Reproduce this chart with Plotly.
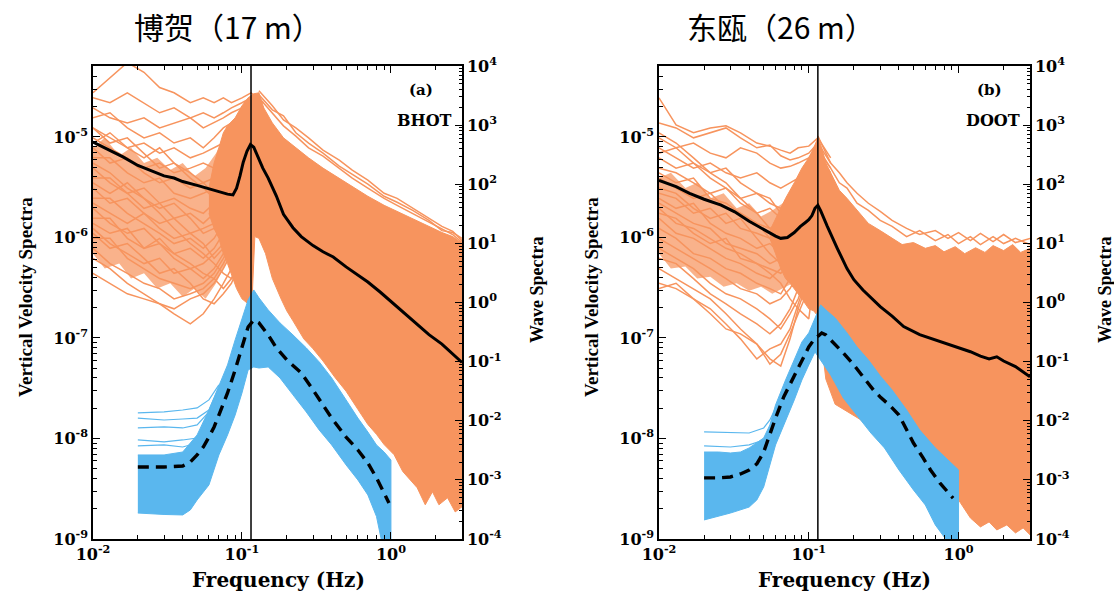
import plotly.graph_objects as go

ORANGE = "#F7945E"
ORANGE_CORE = "rgba(247,148,94,0.72)"
BLUE = "#5AB7EE"
PEAK_FREQ = 0.115

TITLES = ["博贺（17 m）", "东瓯（26 m）"]
PANEL_TAGS = ["(a)", "(b)"]
STATIONS = ["BHOT", "DOOT"]

X_TICKS = [0.01, 0.1, 1]
X_TICK_TEXT = ["10<sup>-2</sup>", "10<sup>-1</sup>", "10<sup>0</sup>"]
VEL_TICKS = [1e-9, 1e-8, 1e-7, 1e-6, 1e-5]
VEL_TICK_TEXT = ["10<sup>-9</sup>", "10<sup>-8</sup>", "10<sup>-7</sup>", "10<sup>-6</sup>", "10<sup>-5</sup>"]
WAVE_TICKS = [1e-4, 1e-3, 1e-2, 1e-1, 1, 10, 100, 1000, 10000]
WAVE_TICK_TEXT = ["10<sup>-4</sup>", "10<sup>-3</sup>", "10<sup>-2</sup>", "10<sup>-1</sup>", "10<sup>0</sup>",
                  "10<sup>1</sup>", "10<sup>2</sup>", "10<sup>3</sup>", "10<sup>4</sup>"]

# ---------------- panel (a) : BHOT ----------------
F_LOW = [0.01, 0.013, 0.017, 0.022, 0.028, 0.035, 0.045, 0.055, 0.065, 0.075, 0.085, 0.1, 0.115, 0.14]

A_ORANGE_LINES = [
    [2.75e-5, 3.9e-5, 5.5e-5, 4.4e-5, 3.1e-5, 2.75e-5, 2.19e-5, 2.45e-5, 2.19e-5, 2.45e-5, 2.19e-5, 2.45e-5, 2.75e-5, 2.19e-5],
    [2.45e-5, 2.19e-5, 2.75e-5, 2.19e-5, 1.74e-5, 1.95e-5, 1.55e-5, 1.74e-5, 1.55e-5, 1.74e-5, 1.95e-5, 2.19e-5, 2.45e-5, 1.95e-5],
    [1.95e-5, 1.55e-5, 1.38e-5, 1.55e-5, 1.23e-5, 1.38e-5, 1.55e-5, 1.23e-5, 1.38e-5, 1.55e-5, 1.74e-5, 1.95e-5, 2.45e-5, 1.74e-5],
    [1.55e-5, 1.74e-5, 1.23e-5, 9.8e-6, 1.1e-5, 8.7e-6, 9.8e-6, 7.8e-6, 9.8e-6, 1.23e-5, 1.38e-5, 1.74e-5, 2.19e-5, 1.55e-5],
    [1.23e-5, 9.8e-6, 7.8e-6, 8.7e-6, 6.9e-6, 7.8e-6, 6.2e-6, 6.9e-6, 7.8e-6, 8.7e-6, 1.1e-5, 1.55e-5, 1.95e-5, 1.38e-5],
    [9.8e-6, 7.8e-6, 6.2e-6, 4.9e-6, 5.5e-6, 4.4e-6, 4.9e-6, 5.5e-6, 4.9e-6, 6.2e-6, 7.8e-6, 1.23e-5, 1.74e-5, 1.23e-5],
    [7.8e-6, 5.5e-6, 6.2e-6, 4.4e-6, 3.5e-6, 3.9e-6, 3.1e-6, 3.5e-6, 3.9e-6, 4.9e-6, 6.2e-6, 9.8e-6, 1.55e-5, 1.1e-5],
    [6.2e-6, 6.2e-6, 4.4e-6, 3.5e-6, 3.9e-6, 2.75e-6, 2.45e-6, 2.75e-6, 3.1e-6, 3.9e-6, 4.9e-6, 7.8e-6, 1.38e-5, 9.8e-6],
    [4.9e-6, 3.5e-6, 2.75e-6, 3.1e-6, 2.19e-6, 2.45e-6, 1.95e-6, 1.74e-6, 2.19e-6, 2.75e-6, 3.9e-6, 6.2e-6, 1.23e-5, 8.7e-6],
    [3.9e-6, 3.9e-6, 2.75e-6, 1.95e-6, 2.19e-6, 1.55e-6, 1.74e-6, 1.38e-6, 1.74e-6, 2.19e-6, 3.1e-6, 5.5e-6, 1.1e-5, 7.8e-6],
    [3.1e-6, 2.19e-6, 2.45e-6, 1.74e-6, 1.38e-6, 1.55e-6, 1.1e-6, 1.23e-6, 1.38e-6, 1.74e-6, 2.45e-6, 4.4e-6, 9.8e-6, 6.9e-6],
    [2.45e-6, 2.45e-6, 1.74e-6, 1.38e-6, 1.1e-6, 8.7e-7, 9.8e-7, 7.8e-7, 9.8e-7, 1.38e-6, 2.19e-6, 3.9e-6, 8.7e-6, 6.2e-6],
    [1.95e-6, 1.38e-6, 1.1e-6, 1.23e-6, 8.7e-7, 6.9e-7, 7.8e-7, 6.2e-7, 7.8e-7, 1.1e-6, 1.74e-6, 3.1e-6, 7.8e-6, 5.5e-6],
    [1.55e-6, 1.55e-6, 9.8e-7, 7.8e-7, 8.7e-7, 6.2e-7, 4.9e-7, 5.5e-7, 6.9e-7, 8.7e-7, 1.38e-6, 2.75e-6, 6.9e-6, 4.9e-6],
    [1.23e-6, 8.7e-7, 6.9e-7, 5.5e-7, 6.2e-7, 4.4e-7, 4.9e-7, 3.9e-7, 4.9e-7, 6.9e-7, 1.1e-6, 2.19e-6, 6.2e-6, 4.4e-6],
    [9.8e-7, 9.8e-7, 6.2e-7, 4.9e-7, 3.9e-7, 3.5e-7, 3.1e-7, 3.5e-7, 4.4e-7, 6.2e-7, 8.7e-7, 1.74e-6, 5.5e-6, 3.9e-6],
    [7.8e-7, 5.5e-7, 4.4e-7, 3.5e-7, 3.1e-7, 2.45e-7, 2.75e-7, 3.1e-7, 3.9e-7, 5.5e-7, 7.8e-7, 1.38e-6, 4.9e-6, 3.5e-6],
    [6.2e-7, 4.9e-7, 3.5e-7, 2.75e-7, 2.19e-7, 1.95e-7, 2.45e-7, 2.75e-7, 3.5e-7, 4.9e-7, 6.9e-7, 1.1e-6, 3.9e-6, 3.1e-6],
    [4.4e-7, 3.5e-7, 2.75e-7, 2.45e-7, 2.19e-7, 1.74e-7, 1.38e-7, 1.74e-7, 2.45e-7, 3.5e-7, 4.9e-7, 8.7e-7, 3.1e-6, 2.45e-6],
    [1.1e-6, 7.8e-7, 8.7e-7, 6.2e-7, 4.4e-7, 4.9e-7, 3.5e-7, 2.45e-7, 2.19e-7, 2.75e-7, 3.5e-7, 6.2e-7, 2.45e-6, 1.95e-6],
    [1.23e-5, 8.7e-6, 9.8e-6, 6.9e-6, 4.9e-6, 5.5e-6, 3.9e-6, 3.1e-6, 2.45e-6, 1.95e-6, 1.74e-6, 2.45e-6, 7.8e-6, 4.9e-6],
    [5.5e-6, 4.4e-6, 3.1e-6, 2.45e-6, 1.74e-6, 1.23e-6, 8.7e-7, 6.9e-7, 5.5e-7, 4.4e-7, 3.9e-7, 4.9e-7, 1.95e-6, 1.55e-6],
    [8.7e-6, 1.1e-5, 7.8e-6, 6.2e-6, 7.8e-6, 5.5e-6, 4.4e-6, 3.5e-6, 2.75e-6, 3.1e-6, 3.9e-6, 5.5e-6, 1.1e-5, 7.8e-6],
    [3.5e-6, 2.75e-6, 3.5e-6, 2.45e-6, 1.95e-6, 2.19e-6, 1.55e-6, 1.1e-6, 1.23e-6, 9.8e-7, 1.1e-6, 1.55e-6, 4.4e-6, 3.5e-6],
    [2.19e-6, 1.74e-6, 1.38e-6, 1.74e-6, 1.23e-6, 9.8e-7, 1.1e-6, 8.7e-7, 6.2e-7, 7.8e-7, 8.7e-7, 1.23e-6, 3.5e-6, 2.75e-6],
    [1.38e-6, 1.1e-6, 1.23e-6, 7.8e-7, 9.8e-7, 6.9e-7, 5.5e-7, 4.4e-7, 3.9e-7, 3.1e-7, 3.9e-7, 6.9e-7, 2.75e-6, 2.19e-6],
]

A_CORE_F = [0.01, 0.012, 0.015, 0.018, 0.022, 0.027, 0.033, 0.04, 0.048, 0.057, 0.067, 0.078,
            0.078, 0.067, 0.057, 0.048, 0.04, 0.033, 0.027, 0.022, 0.018, 0.015, 0.012, 0.01]
A_CORE_V = [7.8e-6, 9.8e-6, 6.5e-6, 7.8e-6, 5.5e-6, 6.2e-6, 4.7e-6, 5.5e-6, 4.07e-6, 4.9e-6, 6.9e-6, 1.1e-5,
            5.5e-7, 3.5e-7, 2.45e-7, 3.1e-7, 2.57e-7, 3.5e-7, 3.1e-7, 4.4e-7, 3.9e-7, 5.5e-7, 4.9e-7, 6.9e-7]

A_ORANGE_UP_F = [0.06, 0.065, 0.07, 0.075, 0.08, 0.09, 0.1, 0.11, 0.12, 0.13, 0.14, 0.16, 0.19, 0.23, 0.28,
                 0.35, 0.45, 0.55, 0.7, 0.9, 1.1, 1.4, 1.8, 2.2, 2.6, 3.0]
A_ORANGE_UP_V = [3.1e-6, 5.5e-6, 7.8e-6, 1.1e-5, 1.29e-5, 1.55e-5, 2.04e-5, 2.45e-5, 2.69e-5, 2.75e-5, 1.95e-5,
                 1.38e-5, 9.8e-6, 7.8e-6, 6.2e-6, 4.9e-6, 3.9e-6, 3.24e-6, 2.57e-6, 2.09e-6, 1.82e-6, 1.55e-6,
                 1.29e-6, 1.12e-6, 1.02e-6, 8.7e-7]
A_ORANGE_LO_F = [3.0, 2.7, 2.4, 2.1, 1.9, 1.7, 1.5, 1.35, 1.2, 1.05, 0.9, 0.8, 0.7, 0.6, 0.5, 0.42, 0.35, 0.3,
                 0.26, 0.22, 0.2, 0.183, 0.16, 0.144, 0.13, 0.122, 0.117, 0.11, 0.1, 0.092, 0.085, 0.08, 0.075,
                 0.07, 0.065, 0.06]
A_ORANGE_LO_V = [2.09e-9, 1.86e-9, 2.57e-9, 2.19e-9, 2.95e-9, 2.19e-9, 3.24e-9, 3.9e-9, 4.7e-9, 6.9e-9, 8.7e-9,
                 1.1e-8, 1.38e-8, 1.95e-8, 2.95e-8, 4.07e-8, 5.9e-8, 7.8e-8, 9.8e-8, 1.48e-7, 1.86e-7, 2.45e-7,
                 3.9e-7, 6.9e-7, 9.8e-7, 1.02e-6, 2.45e-7, 2.19e-7, 2.45e-7, 3.1e-7, 4.4e-7, 5.5e-7, 6.9e-7,
                 9.8e-7, 1.23e-6, 1.74e-6]

A_ORANGE_TOP_F = [0.13, 0.16, 0.19, 0.23, 0.28, 0.35, 0.45, 0.55, 0.7, 0.9, 1.1, 1.4, 1.8, 2.2, 2.6, 3.0]
A_ORANGE_TOP_LINES = [
    [2.88e-5, 2.04e-5, 1.48e-5, 1.23e-5, 9.8e-6, 7.41e-6, 5.89e-6, 4.68e-6, 3.72e-6, 2.75e-6, 2.45e-6, 1.95e-6, 1.55e-6, 1.29e-6, 1.15e-6, 9.3e-7],
    [2.45e-5, 1.74e-5, 1.29e-5, 1.02e-5, 7.8e-6, 6.46e-6, 4.9e-6, 3.9e-6, 3.1e-6, 2.45e-6, 2.09e-6, 1.74e-6, 1.41e-6, 1.23e-6, 1.07e-6, 8.9e-7],
    [2.63e-5, 1.86e-5, 1.62e-5, 1.1e-5, 8.7e-6, 6.9e-6, 5.13e-6, 4.27e-6, 3.39e-6, 2.57e-6, 2.24e-6, 1.86e-6, 1.48e-6, 1.17e-6, 1.12e-6, 9.8e-7],
]

A_MEAN_F = [0.01, 0.013, 0.016, 0.02, 0.025, 0.03, 0.035, 0.04, 0.05, 0.06, 0.07, 0.08, 0.087, 0.092, 0.097,
            0.102, 0.108, 0.114, 0.12, 0.128, 0.138, 0.15, 0.17, 0.19, 0.22, 0.25, 0.3, 0.35, 0.41, 0.5, 0.6,
            0.7, 0.85, 1.0, 1.2, 1.5, 1.8, 2.2, 2.6, 3.0]
A_MEAN_V = [8.9e-6, 7.3e-6, 6.3e-6, 5.2e-6, 4.6e-6, 4.1e-6, 3.9e-6, 3.6e-6, 3.3e-6, 3.05e-6, 2.85e-6, 2.7e-6,
            2.65e-6, 3.1e-6, 4.1e-6, 5.6e-6, 7.2e-6, 8.4e-6, 7.9e-6, 6.3e-6, 4.9e-6, 3.9e-6, 2.6e-6, 1.7e-6,
            1.25e-6, 1.02e-6, 8.3e-7, 7.2e-7, 6.4e-7, 5.1e-7, 4.2e-7, 3.6e-7, 2.85e-7, 2.3e-7, 1.85e-7,
            1.35e-7, 1.08e-7, 8.7e-8, 7.0e-8, 5.7e-8]

A_BLUE_UP_F = [0.02, 0.03, 0.04, 0.05, 0.06, 0.07, 0.08, 0.09, 0.1, 0.11, 0.12, 0.13, 0.15, 0.18, 0.22, 0.27,
               0.33, 0.4, 0.5, 0.6, 0.7, 0.8, 0.9, 1.0]
A_BLUE_UP_V = [2.64e-3, 2.64e-3, 2.96e-3, 5.75e-3, 0.0152, 0.0404, 0.0879, 0.233, 0.51, 1.11, 1.63, 1.2, 0.75,
               0.452, 0.283, 0.171, 0.099, 0.053, 0.0225, 0.0111, 6.46e-3, 3.9e-3, 2.96e-3, 2.17e-3]
A_BLUE_LO_F = [1.0, 0.9, 0.86, 0.8, 0.7, 0.6, 0.5, 0.4, 0.33, 0.27, 0.22, 0.18, 0.15, 0.13, 0.12, 0.11, 0.1,
               0.09, 0.08, 0.07, 0.06, 0.05, 0.045, 0.04, 0.03, 0.02]
A_BLUE_LO_V = [5e-5, 5e-5, 1.0e-4, 2.4e-4, 5.56e-4, 9.96e-4, 1.79e-3, 3.9e-3, 6.98e-3, 0.0141, 0.0274, 0.053,
               0.0813, 0.078, 0.0813, 0.0724, 0.0295, 0.0125, 5.75e-3, 2.64e-3, 8.2e-4, 4.57e-4, 3.1e-4,
               2.55e-4, 2.6e-4, 2.75e-4]
A_BLUE_OUT_F = [0.02, 0.03, 0.04, 0.05, 0.06, 0.07]
A_BLUE_OUT_LINES = [
    [0.01355, 0.0141, 0.0152, 0.0165, 0.0225, 0.0404],
    [0.0111, 0.0103, 0.0107, 0.0111, 0.0152, 0.036],
    [7.55e-3, 7.85e-3, 7.55e-3, 8.5e-3, 0.0141, 0.0332],
    [4.73e-3, 4.4e-3, 4.73e-3, 5.1e-3, 0.0103, 0.0274],
    [3.75e-3, 3.9e-3, 3.6e-3, 4.2e-3, 8.5e-3, 0.0243],
]
A_WAVE_MEAN_F = [0.02, 0.03, 0.04, 0.045, 0.05, 0.055, 0.06, 0.065, 0.07, 0.08, 0.09, 0.1, 0.11, 0.12, 0.13,
                 0.15, 0.17, 0.2, 0.25, 0.3, 0.35, 0.4, 0.5, 0.6, 0.7, 0.8, 0.9, 0.97]
A_WAVE_MEAN_V = [1.65e-3, 1.65e-3, 1.72e-3, 2.01e-3, 2.64e-3, 3.6e-3, 5.3e-3, 7.85e-3, 0.0125, 0.0295, 0.0724,
                 0.177, 0.386, 0.508, 0.452, 0.283, 0.171, 0.107, 0.0644, 0.0332, 0.0185, 0.0111, 5.3e-3,
                 3.2e-3, 1.93e-3, 1.08e-3, 6.0e-4, 4.06e-4]

# ---------------- panel (b) : DOOT ----------------
B_ORANGE_LINES = [
    [2.45e-5, 1.32e-5, 1.1e-5, 1.23e-5, 1.29e-5, 1.1e-5, 8.7e-6, 8.1e-6, 7.4e-6, 6.9e-6, 7.8e-6, 8.1e-6, 9.8e-6, 6.2e-6],
    [1.38e-5, 1.23e-5, 9.8e-6, 1.1e-5, 1.23e-5, 9.8e-6, 7.8e-6, 8.3e-6, 6.5e-6, 5.9e-6, 6.2e-6, 6.9e-6, 8.7e-6, 5.5e-6],
    [9.8e-6, 7.8e-6, 8.7e-6, 6.9e-6, 6.2e-6, 7.8e-6, 6.9e-6, 5.5e-6, 4.9e-6, 5.1e-6, 5.5e-6, 6.2e-6, 7.8e-6, 4.9e-6],
    [7.8e-6, 6.2e-6, 4.9e-6, 5.5e-6, 4.4e-6, 3.9e-6, 4.4e-6, 3.5e-6, 3.1e-6, 3.5e-6, 3.9e-6, 5.1e-6, 6.9e-6, 4.4e-6],
    [6.2e-6, 4.9e-6, 5.5e-6, 3.9e-6, 3.1e-6, 2.45e-6, 2.75e-6, 2.19e-6, 1.95e-6, 2.45e-6, 3.1e-6, 4.4e-6, 6.2e-6, 3.9e-6],
    [4.9e-6, 4.4e-6, 3.5e-6, 2.75e-6, 3.1e-6, 2.19e-6, 1.74e-6, 1.95e-6, 1.55e-6, 1.74e-6, 2.45e-6, 3.5e-6, 5.5e-6, 3.5e-6],
    [3.9e-6, 3.1e-6, 2.45e-6, 2.75e-6, 1.95e-6, 1.74e-6, 1.38e-6, 1.23e-6, 1.38e-6, 1.55e-6, 1.95e-6, 3.1e-6, 4.9e-6, 3.1e-6],
    [3.1e-6, 2.75e-6, 1.95e-6, 1.55e-6, 1.74e-6, 1.23e-6, 1.1e-6, 9.8e-7, 8.7e-7, 1.1e-6, 1.55e-6, 2.45e-6, 4.4e-6, 2.75e-6],
    [2.45e-6, 1.95e-6, 2.19e-6, 1.38e-6, 1.1e-6, 9.8e-7, 7.8e-7, 8.7e-7, 6.9e-7, 8.7e-7, 1.23e-6, 2.19e-6, 3.9e-6, 2.45e-6],
    [2.19e-6, 1.74e-6, 1.38e-6, 1.23e-6, 8.7e-7, 7.8e-7, 6.9e-7, 5.5e-7, 6.2e-7, 7.8e-7, 9.8e-7, 1.74e-6, 3.5e-6, 2.19e-6],
    [1.74e-6, 1.55e-6, 1.1e-6, 8.7e-7, 9.8e-7, 6.2e-7, 5.5e-7, 4.9e-7, 4.4e-7, 5.5e-7, 8.7e-7, 1.55e-6, 3.1e-6, 1.95e-6],
    [1.55e-6, 1.1e-6, 9.8e-7, 7.8e-7, 6.2e-7, 5.5e-7, 4.4e-7, 3.9e-7, 4.9e-7, 4.4e-7, 6.9e-7, 1.23e-6, 2.75e-6, 1.74e-6],
    [1.23e-6, 9.8e-7, 6.9e-7, 6.2e-7, 4.9e-7, 4.4e-7, 3.5e-7, 3.1e-7, 2.75e-7, 3.9e-7, 5.5e-7, 9.8e-7, 2.45e-6, 1.55e-6],
    [9.8e-7, 7.8e-7, 6.2e-7, 4.9e-7, 3.9e-7, 3.1e-7, 2.75e-7, 2.19e-7, 2.45e-7, 3.1e-7, 4.4e-7, 7.8e-7, 2.19e-6, 1.38e-6],
    [7.8e-7, 6.2e-7, 4.9e-7, 3.5e-7, 2.75e-7, 2.45e-7, 1.95e-7, 1.55e-7, 1.23e-7, 1.74e-7, 2.45e-7, 4.9e-7, 1.95e-6, 1.23e-6],
    [6.2e-7, 5.5e-7, 3.9e-7, 2.75e-7, 2.19e-7, 1.74e-7, 1.38e-7, 1.1e-7, 1.38e-7, 1.95e-7, 3.1e-7, 6.2e-7, 1.74e-6, 1.1e-6],
    [4.9e-7, 3.9e-7, 3.1e-7, 2.45e-7, 1.74e-7, 1.23e-7, 8.7e-8, 6.2e-8, 5.25e-8, 9.8e-8, 1.95e-7, 3.9e-7, 1.55e-6, 9.8e-7],
    [3.5e-7, 3.1e-7, 2.45e-7, 1.95e-7, 1.38e-7, 9.8e-8, 6.2e-8, 7.8e-8, 8.7e-8, 1.23e-7, 2.19e-7, 4.4e-7, 1.38e-6, 8.7e-7],
    [3.1e-7, 3.5e-7, 2.45e-7, 1.74e-7, 1.23e-7, 1.1e-7, 8.7e-8, 5.5e-8, 6.9e-8, 1.1e-7, 1.74e-7, 3.1e-7, 1.23e-6, 7.8e-7],
    [2.75e-6, 2.45e-6, 1.74e-6, 1.95e-6, 1.38e-6, 1.55e-6, 9.8e-7, 6.9e-7, 5.5e-7, 3.9e-7, 3.1e-7, 2.45e-7, 9.8e-7, 7.8e-7],
    [1.1e-5, 8.7e-6, 6.2e-6, 4.4e-6, 3.5e-6, 2.45e-6, 1.74e-6, 1.23e-6, 8.7e-7, 6.9e-7, 6.2e-7, 7.8e-7, 2.45e-6, 1.55e-6],
    [4.4e-6, 3.5e-6, 3.9e-6, 2.45e-6, 2.19e-6, 1.74e-6, 1.38e-6, 9.8e-7, 6.9e-7, 4.9e-7, 3.5e-7, 2.19e-7, 1.1e-6, 8.7e-7],
    [1.95e-6, 1.38e-6, 1.23e-6, 9.8e-7, 7.8e-7, 6.9e-7, 5.5e-7, 4.4e-7, 3.5e-7, 2.45e-7, 1.95e-7, 1.55e-7, 7.8e-7, 6.9e-7],
    [6.9e-6, 7.8e-6, 5.5e-6, 4.4e-6, 4.9e-6, 3.5e-6, 2.75e-6, 2.45e-6, 1.74e-6, 1.23e-6, 9.8e-7, 1.1e-6, 3.1e-6, 1.95e-6],
]

B_CORE_F = [0.01, 0.012, 0.015, 0.018, 0.022, 0.027, 0.033, 0.04, 0.048, 0.057, 0.067, 0.078,
            0.078, 0.067, 0.057, 0.048, 0.04, 0.033, 0.027, 0.022, 0.018, 0.015, 0.012, 0.01]
B_CORE_V = [3.9e-6, 4.4e-6, 3.1e-6, 3.5e-6, 2.45e-6, 2.75e-6, 1.95e-6, 2.19e-6, 1.62e-6, 1.86e-6, 2.19e-6, 2.75e-6,
            3.5e-7, 3.1e-7, 2.75e-7, 3.24e-7, 2.95e-7, 3.5e-7, 3.24e-7, 4.07e-7, 3.9e-7, 5.13e-7, 4.9e-7, 6.9e-7]

B_ORANGE_UP_F = [0.055, 0.06, 0.065, 0.07, 0.08, 0.09, 0.1, 0.108, 0.115, 0.122, 0.13, 0.145, 0.16, 0.18, 0.21,
                 0.25, 0.3, 0.36, 0.42, 0.5, 0.6, 0.7, 0.8, 0.95, 1.1, 1.3, 1.5, 1.7, 2.0, 2.3, 2.6, 3.0]
B_ORANGE_UP_V = [1.17e-6, 1.55e-6, 1.95e-6, 2.45e-6, 3.5e-6, 4.9e-6, 6.2e-6, 7.8e-6, 9.8e-6, 7.8e-6, 5.5e-6,
                 3.9e-6, 2.95e-6, 2.45e-6, 1.86e-6, 1.38e-6, 1.17e-6, 9.8e-7, 8.5e-7, 8.9e-7, 7.8e-7, 8.3e-7,
                 7.2e-7, 8.1e-7, 6.9e-7, 7.9e-7, 7.1e-7, 8.3e-7, 7.4e-7, 8.5e-7, 7.1e-7, 7.8e-7]
B_ORANGE_LO_F = [3.0, 2.7, 2.4, 2.1, 1.8, 1.6, 1.4, 1.2, 1.05, 0.95, 0.85, 0.7, 0.55, 0.45, 0.35, 0.3, 0.26,
                 0.22, 0.18, 0.15, 0.13, 0.12, 0.116, 0.108, 0.1, 0.09, 0.08, 0.075, 0.07, 0.065, 0.06, 0.055]
B_ORANGE_LO_V = [1.1e-9, 1.29e-9, 1.15e-9, 1.38e-9, 1.23e-9, 1.48e-9, 1.32e-9, 1.62e-9, 2.19e-9, 2.75e-9,
                 3.9e-9, 5.9e-9, 8.7e-9, 1.23e-8, 1.38e-8, 1.17e-8, 1.23e-8, 1.55e-8, 1.86e-8, 2.19e-8,
                 3.9e-8, 9.8e-8, 1.62e-7, 1.86e-7, 1.95e-7, 2.45e-7, 3.1e-7, 3.5e-7, 3.9e-7, 4.9e-7, 6.9e-7,
                 9.8e-7]

B_ORANGE_TOP_F = [0.115, 0.125, 0.14, 0.16, 0.18, 0.21, 0.25, 0.3, 0.36, 0.45, 0.55, 0.7, 0.85, 1.0, 1.2, 1.4,
                  1.7, 2.0, 2.4, 3.0]
B_ORANGE_TOP_LINES = [
    [1.02e-5, 7.8e-6, 5.5e-6, 4.4e-6, 3.5e-6, 2.75e-6, 2.19e-6, 1.82e-6, 1.48e-6, 1.23e-6, 1.07e-6, 1.17e-6,
     9.8e-7, 1.12e-6, 9.3e-7, 1.1e-6, 9.1e-7, 1.07e-6, 8.9e-7, 9.8e-7],
    [8.7e-6, 6.2e-6, 4.9e-6, 3.5e-6, 3.1e-6, 2.19e-6, 1.86e-6, 1.48e-6, 1.29e-6, 1.02e-6, 1.17e-6, 9.3e-7,
     1.07e-6, 8.7e-7, 1.02e-6, 8.5e-7, 1.02e-6, 8.7e-7, 9.8e-7, 8.5e-7],
]

B_MEAN_F = [0.01, 0.013, 0.016, 0.02, 0.026, 0.032, 0.04, 0.05, 0.06, 0.065, 0.072, 0.08, 0.088, 0.095, 0.1,
            0.105, 0.11, 0.115, 0.12, 0.133, 0.145, 0.155, 0.18, 0.2, 0.23, 0.26, 0.3, 0.36, 0.43, 0.55, 0.72,
            0.9, 1.2, 1.4, 1.6, 1.8, 2.0, 2.4, 2.7, 3.0]
B_MEAN_V = [3.7e-6, 3.2e-6, 2.75e-6, 2.4e-6, 2.1e-6, 1.8e-6, 1.45e-6, 1.2e-6, 1.03e-6, 9.8e-7, 1.0e-6, 1.12e-6,
            1.29e-6, 1.41e-6, 1.5e-6, 1.65e-6, 1.95e-6, 2.09e-6, 1.85e-6, 1.29e-6, 9.5e-7, 7.8e-7, 4.9e-7,
            3.8e-7, 3.0e-7, 2.5e-7, 2.05e-7, 1.65e-7, 1.3e-7, 1.08e-7, 9.4e-8, 8.5e-8, 7.3e-8, 6.6e-8,
            6.2e-8, 6.5e-8, 5.9e-8, 5.2e-8, 4.6e-8, 4.1e-8]

B_BLUE_UP_F = [0.02, 0.025, 0.03, 0.035, 0.04, 0.05, 0.055, 0.06, 0.07, 0.08, 0.09, 0.1, 0.11, 0.12, 0.13,
               0.15, 0.18, 0.21, 0.25, 0.3, 0.36, 0.45, 0.55, 0.7, 0.85, 1.0]
B_BLUE_UP_V = [2.96e-3, 2.96e-3, 2.85e-3, 2.96e-3, 3.47e-3, 5.12e-3, 8.5e-3, 0.0185, 0.049, 0.107, 0.215,
               0.306, 0.548, 0.91, 0.75, 0.548, 0.306, 0.177, 0.107, 0.0573, 0.0332, 0.0152, 6.98e-3,
               3.47e-3, 2.17e-3, 1.47e-3]
B_BLUE_LO_F = [1.0, 0.88, 0.82, 0.7, 0.6, 0.5, 0.4, 0.32, 0.26, 0.21, 0.17, 0.14, 0.12, 0.11, 0.1, 0.09,
               0.08, 0.07, 0.06, 0.05, 0.045, 0.04, 0.03, 0.02]
B_BLUE_LO_V = [5e-5, 6e-5, 1e-4, 1.73e-4, 3.76e-4, 6.75e-4, 1.47e-3, 3.47e-3, 6.2e-3, 0.0125, 0.0243,
               0.0596, 0.107, 0.146, 0.0879, 0.049, 0.0225, 0.0103, 3.9e-3, 7.6e-4, 4.57e-4, 3.47e-4,
               2.75e-4, 2.1e-4]
B_BLUE_OUT_F = [0.02, 0.03, 0.04, 0.05, 0.055, 0.06]
B_BLUE_OUT_LINES = [
    [6.46e-3, 6.2e-3, 6.2e-3, 7.55e-3, 0.0103, 0.0165],
    [3.75e-3, 3.6e-3, 3.9e-3, 4.73e-3, 7.55e-3, 0.0152],
]
B_WAVE_MEAN_F = [0.02, 0.025, 0.03, 0.035, 0.04, 0.045, 0.05, 0.055, 0.06, 0.068, 0.076, 0.084, 0.092, 0.1,
                 0.108, 0.115, 0.122, 0.13, 0.15, 0.17, 0.2, 0.23, 0.27, 0.3, 0.35, 0.4, 0.5, 0.58, 0.65,
                 0.75, 0.85, 0.92]
B_WAVE_MEAN_V = [1.08e-3, 1.08e-3, 1.12e-3, 1.26e-3, 1.47e-3, 1.86e-3, 2.96e-3, 6.2e-3, 0.0111, 0.0253,
                 0.0437, 0.0724, 0.12, 0.177, 0.233, 0.272, 0.306, 0.283, 0.199, 0.14, 0.0879, 0.055,
                 0.0332, 0.0253, 0.0178, 0.0125, 4.2e-3, 2.35e-3, 1.47e-3, 8.9e-4, 6.0e-4, 4.9e-4]

PANELS = [
    dict(orange_lines=A_ORANGE_LINES, core_f=A_CORE_F, core_v=A_CORE_V, up_f=A_ORANGE_UP_F, up_v=A_ORANGE_UP_V,
         lo_f=A_ORANGE_LO_F, lo_v=A_ORANGE_LO_V, top_f=A_ORANGE_TOP_F, top_lines=A_ORANGE_TOP_LINES,
         mean_f=A_MEAN_F, mean_v=A_MEAN_V, bup_f=A_BLUE_UP_F, bup_v=A_BLUE_UP_V, blo_f=A_BLUE_LO_F,
         blo_v=A_BLUE_LO_V, bout_f=A_BLUE_OUT_F, bout_lines=A_BLUE_OUT_LINES, wmean_f=A_WAVE_MEAN_F,
         wmean_v=A_WAVE_MEAN_V),
    dict(orange_lines=B_ORANGE_LINES, core_f=B_CORE_F, core_v=B_CORE_V, up_f=B_ORANGE_UP_F, up_v=B_ORANGE_UP_V,
         lo_f=B_ORANGE_LO_F, lo_v=B_ORANGE_LO_V, top_f=B_ORANGE_TOP_F, top_lines=B_ORANGE_TOP_LINES,
         mean_f=B_MEAN_F, mean_v=B_MEAN_V, bup_f=B_BLUE_UP_F, bup_v=B_BLUE_UP_V, blo_f=B_BLUE_LO_F,
         blo_v=B_BLUE_LO_V, bout_f=B_BLUE_OUT_F, bout_lines=B_BLUE_OUT_LINES, wmean_f=B_WAVE_MEAN_F,
         wmean_v=B_WAVE_MEAN_V),
]

W, H = 1114, 593
PLOT_X = [(93, 462), (659, 1030)]
PLOT_TOP, PLOT_BOTTOM = 66, 539

fig = go.Figure()

for i, p in enumerate(PANELS):
    xa = "x" if i == 0 else "x2"
    yl = "y" if i == 0 else "y3"
    yr = "y2" if i == 0 else "y4"
    fig.add_trace(go.Scatter(x=p["core_f"], y=p["core_v"], mode="lines", fill="toself",
                             fillcolor=ORANGE_CORE, line=dict(width=0), xaxis=xa, yaxis=yl,
                             showlegend=False, hoverinfo="skip"))
    for vals in p["orange_lines"]:
        fig.add_trace(go.Scatter(x=F_LOW, y=vals, mode="lines", line=dict(color=ORANGE, width=1.5),
                                 xaxis=xa, yaxis=yl, showlegend=False, hoverinfo="skip"))
    fig.add_trace(go.Scatter(x=p["up_f"] + p["lo_f"], y=p["up_v"] + p["lo_v"], mode="lines", fill="toself",
                             fillcolor=ORANGE, line=dict(color=ORANGE, width=1), xaxis=xa, yaxis=yl,
                             showlegend=False, hoverinfo="skip"))
    for vals in p["top_lines"]:
        fig.add_trace(go.Scatter(x=p["top_f"], y=vals, mode="lines", line=dict(color=ORANGE, width=1.5),
                                 xaxis=xa, yaxis=yl, showlegend=False, hoverinfo="skip"))
    fig.add_trace(go.Scatter(x=p["mean_f"], y=p["mean_v"], mode="lines", line=dict(color="black", width=3),
                             xaxis=xa, yaxis=yl, showlegend=False, hoverinfo="skip"))
    # wave spectra on right axis
    fig.add_trace(go.Scatter(x=p["bup_f"] + p["blo_f"], y=p["bup_v"] + p["blo_v"], mode="lines", fill="toself",
                             fillcolor=BLUE, line=dict(color=BLUE, width=1), xaxis=xa, yaxis=yr,
                             showlegend=False, hoverinfo="skip"))
    for vals in p["bout_lines"]:
        fig.add_trace(go.Scatter(x=p["bout_f"], y=vals, mode="lines", line=dict(color=BLUE, width=1.2),
                                 xaxis=xa, yaxis=yr, showlegend=False, hoverinfo="skip"))
    fig.add_trace(go.Scatter(x=p["wmean_f"], y=p["wmean_v"], mode="lines",
                             line=dict(color="black", width=3.4, dash="11px,7px"),
                             xaxis=xa, yaxis=yr, showlegend=False, hoverinfo="skip"))

x_minor = [0.02, 0.03, 0.04, 0.05, 0.06, 0.07, 0.08, 0.09, 0.2, 0.3, 0.4, 0.5, 0.6, 0.7, 0.8, 0.9, 2, 3]
vel_minor = [m * d for d in [1e-9, 1e-8, 1e-7, 1e-6, 1e-5] for m in range(2, 10)]
wave_minor = [m * d for d in [1e-4, 1e-3, 1e-2, 1e-1, 1, 10, 100, 1000] for m in range(2, 10)]

tickfont = dict(family="DejaVu Serif", size=16, color="black", weight="bold")
common = dict(type="log", showgrid=False, zeroline=False, showline=True, linecolor="black", linewidth=1.5,
              ticks="inside", tickcolor="black", tickwidth=1.3, ticklen=7, tickfont=tickfont, automargin=False)

ydom = [1 - PLOT_BOTTOM / H, 1 - PLOT_TOP / H]
layout = dict(
    width=W, height=H, autosize=False, margin=dict(l=0, r=0, t=0, b=0, pad=0, autoexpand=False),
    plot_bgcolor="white", paper_bgcolor="white", showlegend=False,
    font=dict(family="Liberation Serif", color="black"),
)
for i in range(2):
    xk = "xaxis" if i == 0 else "xaxis2"
    ylk = "yaxis" if i == 0 else "yaxis3"
    yrk = "yaxis2" if i == 0 else "yaxis4"
    xname = "x" if i == 0 else "x2"
    ylname = "y" if i == 0 else "y3"
    layout[xk] = dict(common, domain=[PLOT_X[i][0] / W, PLOT_X[i][1] / W], anchor=ylname,
                      range=[-2, 0.4771], tickvals=X_TICKS, ticktext=X_TICK_TEXT, mirror="ticks",
                      minor=dict(tickvals=x_minor, ticks="inside", ticklen=4, tickcolor="black", tickwidth=1.2))
    layout[ylk] = dict(common, domain=ydom, anchor=xname, range=[-9, -4.294], tickvals=VEL_TICKS,
                       ticktext=VEL_TICK_TEXT,
                       minor=dict(tickvals=vel_minor, ticks="inside", ticklen=4, tickcolor="black", tickwidth=1.2))
    layout[yrk] = dict(common, domain=ydom, anchor=xname, overlaying=ylname, side="right", range=[-4, 4],
                       tickvals=WAVE_TICKS, ticktext=WAVE_TICK_TEXT,
                       minor=dict(tickvals=wave_minor, ticks="inside", ticklen=3, tickcolor="black", tickwidth=1.1))

fig.update_layout(**layout)

shapes = []
for i in range(2):
    shapes.append(dict(type="line", xref="x" if i == 0 else "x2", yref="paper", x0=PEAK_FREQ, x1=PEAK_FREQ,
                       y0=ydom[0], y1=ydom[1], line=dict(color="black", width=1.5), layer="above"))
fig.update_layout(shapes=shapes)

ann = []
title_cx = [228, 781]
for i in range(2):
    x0, x1 = PLOT_X[i]
    ann.append(dict(text=TITLES[i], x=title_cx[i] / W, y=1 - 26 / H, xref="paper", yref="paper",
                    showarrow=False, xanchor="center", yanchor="middle",
                    font=dict(family="Noto Sans CJK SC", size=30, color="black")))
    ann.append(dict(text=PANEL_TAGS[i], x=(x1 - 41) / W, y=1 - 90 / H, xref="paper", yref="paper",
                    showarrow=False, xanchor="center", yanchor="middle",
                    font=dict(family="DejaVu Serif", size=15, color="black", weight="bold")))
    ann.append(dict(text=STATIONS[i], x=(x1 - 8) / W, y=1 - 121 / H, xref="paper", yref="paper",
                    showarrow=False, xanchor="right", yanchor="middle",
                    font=dict(family="DejaVu Serif", size=16, color="black", weight="bold")))
    ann.append(dict(text="Vertical Velocity Spectra", x=(x0 - 68) / W, y=1 - 297 / H, xref="paper",
                    yref="paper", showarrow=False, textangle=-90, xanchor="center", yanchor="middle",
                    font=dict(family="Liberation Serif", size=19, color="black", weight="bold")))
    ann.append(dict(text="Wave Spectra", x=(x1 + 75) / W, y=1 - 290 / H, xref="paper", yref="paper",
                    showarrow=False, textangle=-90, xanchor="center", yanchor="middle",
                    font=dict(family="Liberation Serif", size=18, color="black", weight="bold")))
    ann.append(dict(text="Frequency (Hz)", x=(x0 + 185) / W, y=1 - 580 / H, xref="paper", yref="paper",
                    showarrow=False, xanchor="center", yanchor="middle",
                    font=dict(family="DejaVu Serif", size=20, color="black", weight="bold")))
fig.update_layout(annotations=ann)

fig.write_html("out.html", post_script="document.body.style.margin='0';document.body.style.overflow='hidden';")
